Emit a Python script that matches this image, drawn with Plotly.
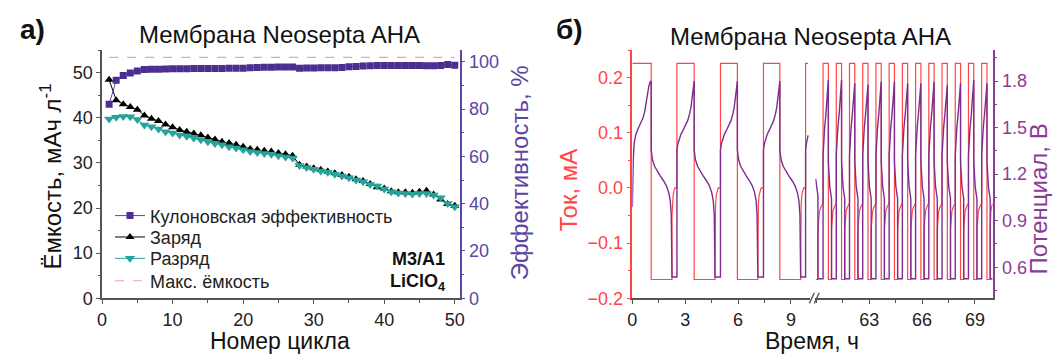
import plotly.graph_objects as go

W, H = 1063, 363

# ---------------- Panel а) data ----------------
cycles = list(range(1, 51))
charge = [48.4, 43.9, 43.0, 42.4, 41.8, 40.5, 39.8, 39.3, 38.5, 37.9,
          37.3, 36.9, 36.5, 36.1, 35.6, 35.2, 34.7, 34.4, 34.0, 33.6,
          33.1, 32.9, 32.7, 32.5, 32.2, 31.9, 31.6, 29.6, 29.2, 28.8,
          28.5, 28.1, 27.7, 27.3, 26.9, 26.4, 26.0, 25.3, 24.6, 24.3,
          23.7, 23.5, 23.5, 23.4, 23.6, 23.8, 23.0, 21.9, 20.9, 20.5]
discharge = [39.7, 40.1, 40.3, 40.2, 39.6, 38.4, 38.0, 37.5, 36.9, 36.6,
             36.2, 35.9, 35.5, 35.1, 34.7, 34.3, 34.0, 33.6, 33.3, 32.9,
             32.5, 32.3, 32.1, 31.9, 31.6, 31.3, 31.1, 29.4, 29.0, 28.6,
             28.2, 27.9, 27.5, 27.1, 26.7, 26.2, 25.8, 25.2, 24.9, 24.2,
             23.6, 23.3, 23.2, 23.1, 23.2, 23.2, 22.9, 22.3, 21.0, 20.3]
efficiency = [82.1, 92.2, 94.2, 95.3, 96.2, 96.8, 96.9, 96.9, 97.0, 97.1,
              97.1, 97.1, 97.2, 97.2, 97.2, 97.2, 97.2, 97.3, 97.3, 97.3,
              97.5, 97.6, 97.7, 97.7, 97.8, 97.8, 97.8, 97.3, 97.4, 97.4,
              97.5, 97.5, 97.5, 97.6, 97.9, 98.1, 98.3, 98.4, 98.5, 98.5,
              98.5, 98.5, 98.5, 98.5, 98.5, 98.4, 98.4, 98.5, 98.9, 98.6]
max_cap_x = [1, 50]
max_cap_y = [53.4, 53.4]

# ---------------- Panel б) data ----------------
I_CHG = 0.226
I_DIS = -0.166
V_HOLD1 = 0.537
V_HOLD2 = 0.526

# segment 1 (0 - 10 h)
s1_cs = [0.00, 2.53, 5.00, 7.44, 9.83]
s1_ce = [1.07, 3.51, 5.96, 8.37]
s1_de = [2.25, 4.69, 7.12, 9.55]
s1_end = 9.97
chg_first_frac = [0.0, 0.02, 0.05, 0.10, 0.17, 0.29, 0.44, 0.56, 0.65, 0.72, 0.79, 0.88, 0.96, 1.0]
chg_first_v = [0.988, 1.15, 1.30, 1.40, 1.45, 1.49, 1.525, 1.56, 1.60, 1.65, 1.715, 1.77, 1.797, 1.80]
chg_frac = [0.0, 0.0, 0.06, 0.13, 0.23, 0.35, 0.48, 0.62, 0.73, 0.81, 0.88, 0.94, 1.0]
chg_v = [V_HOLD1, 1.356, 1.398, 1.430, 1.457, 1.482, 1.513, 1.545, 1.587, 1.629, 1.692, 1.745, 1.80]
dis_frac = [0.0, 0.06, 0.16, 0.29, 0.44, 0.60, 0.73, 0.84, 0.917, 0.965, 0.99, 1.0]
dis_v = [1.356, 1.293, 1.251, 1.219, 1.188, 1.156, 1.125, 1.083, 1.030, 0.936, 0.726, V_HOLD1]
hold1_frac = [0.0, 0.0, 0.1, 0.25, 0.45, 0.6, 1.0]
hold1_i = [I_DIS, -0.05, -0.03, -0.012, -0.003, 0.0, 0.0]
s1_tail_t = [9.83, 9.83, 9.88, 9.93, 9.97]
s1_tail_v = [V_HOLD1, 1.356, 1.40, 1.43, 1.45]

# segment 2 (60 - 70 h)
s2_head_t = [59.96, 60.02, 60.09, 60.09]
s2_head_v = [1.17, 1.12, 1.06, V_HOLD2]
s2_head_i_t = [59.96, 60.09]
s2_cs = [60.38, 61.13, 61.88, 62.63, 63.38, 64.13, 64.88, 65.63, 66.38, 67.13, 67.88, 68.63, 69.38]
s2_ce = [60.68, 61.43, 62.18, 62.93, 63.68, 64.43, 65.18, 65.93, 66.68, 67.43, 68.18, 68.93, 69.68]
s2_de = [60.86, 61.61, 62.36, 63.11, 63.86, 64.61, 65.36, 66.11, 66.86, 67.61, 68.36, 69.11, 69.86]
s2_peak = [1.808, 1.808, 1.786, 1.776, 1.797, 1.797, 1.786, 1.786, 1.797, 1.776, 1.786, 1.808, 1.786]
s2_end = 70.0
chg2_frac = [0.0, 0.0, 0.1, 0.3, 0.55, 0.8, 1.0]
chg2_v = [V_HOLD2, 1.32, 1.42, 1.50, 1.59, 1.70, None]
dis2_frac = [0.0, 0.15, 0.45, 0.8, 1.0, 1.0]
dis2_v = [1.28, 1.20, 1.12, 1.07, 1.04, V_HOLD2]
hold2_frac = [0.0, 0.0, 0.1, 0.3, 0.6, 1.0]
hold2_i = [I_DIS, -0.075, -0.055, -0.042, -0.034, -0.028]

# ---- build segment 1 curves ----
t1, i1, tv1, v1 = [], [], [], []
for k in range(4):
    cs, ce, de, nxt = s1_cs[k], s1_ce[k], s1_de[k], s1_cs[k + 1]
    t1 += [cs, ce, ce, de]
    i1 += [I_CHG, I_CHG, I_DIS, I_DIS]
    for f, v in zip(hold1_frac, hold1_i):
        t1.append(de + f * (nxt - de)); i1.append(v)
    ff, vv = (chg_first_frac, chg_first_v) if k == 0 else (chg_frac, chg_v)
    for f, v in zip(ff, vv):
        tv1.append(cs + f * (ce - cs)); v1.append(v)
    for f, v in zip(dis_frac, dis_v):
        tv1.append(ce + f * (de - ce)); v1.append(v)
    tv1.append(nxt); v1.append(V_HOLD1)
t1 += [s1_cs[4], s1_end]; i1 += [I_CHG, I_CHG]
tv1 += s1_tail_t; v1 += s1_tail_v

# ---- build segment 2 curves ----
t2, i2 = list(s2_head_i_t), [I_DIS, I_DIS]
tv2, v2 = list(s2_head_t), list(s2_head_v)
first_hold_start = s2_head_i_t[-1]
for f, v in zip(hold2_frac, hold2_i):
    t2.append(first_hold_start + f * (s2_cs[0] - first_hold_start)); i2.append(v)
for k in range(len(s2_cs)):
    cs, ce, de = s2_cs[k], s2_ce[k], s2_de[k]
    nxt = s2_cs[k + 1] if k + 1 < len(s2_cs) else s2_end
    t2 += [cs, ce, ce, de]
    i2 += [I_CHG, I_CHG, I_DIS, I_DIS]
    for f, v in zip(hold2_frac, hold2_i):
        t2.append(de + f * (nxt - de)); i2.append(v)
    for f, v in zip(chg2_frac, chg2_v):
        tv2.append(cs + f * (ce - cs)); v2.append(s2_peak[k] if v is None else v)
    tv2.append(ce); v2.append(s2_peak[k])
    for f, v in zip(dis2_frac, dis2_v):
        tv2.append(ce + f * (de - ce)); v2.append(v)
    tv2.append(nxt); v2.append(V_HOLD2)

# ---------------- colours ----------------
C_EFF = "#4b2e8f"
C_EFF_AX = "#5b46a3"
C_TEAL = "#26a39b"
C_PINK = "#f49ac1"
C_RED = "#ff4545"
C_PURP = "#7e2d8f"
C_PURP_AX = "#8a3c98"
C_AX = "#555555"
FONT = "Liberation Sans, Arial, sans-serif"


def px(x):
    return x / W


def py(y):
    return 1 - y / H


fig = go.Figure()

# Panel а traces (each in its own legend box so rows can be spaced like the original)
fig.add_trace(go.Scatter(x=cycles, y=efficiency, yaxis="y2", xaxis="x",
                         mode="lines+markers", name="Кулоновская эффективность", legend="legend",
                         line=dict(color=C_EFF_AX, width=1),
                         marker=dict(symbol="square", size=7, color=C_EFF)))
fig.add_trace(go.Scatter(x=cycles, y=charge, xaxis="x", yaxis="y",
                         mode="lines+markers", name="Заряд", legend="legend2",
                         line=dict(color="black", width=1),
                         marker=dict(symbol="triangle-up", size=8, color="black")))
fig.add_trace(go.Scatter(x=cycles, y=discharge, xaxis="x", yaxis="y",
                         mode="lines+markers", name="Разряд", legend="legend3",
                         line=dict(color=C_TEAL, width=1),
                         marker=dict(symbol="triangle-down", size=9, color=C_TEAL)))
fig.add_trace(go.Scatter(x=max_cap_x, y=max_cap_y, xaxis="x", yaxis="y",
                         mode="lines", name="Макс. ёмкость", legend="legend4",
                         line=dict(color=C_PINK, width=1.2, dash="dash")))

# Panel б traces
fig.add_trace(go.Scatter(x=t1, y=i1, xaxis="x3", yaxis="y3", mode="lines",
                         line=dict(color=C_RED, width=1.2), showlegend=False))
fig.add_trace(go.Scatter(x=t2, y=i2, xaxis="x4", yaxis="y3", mode="lines",
                         line=dict(color=C_RED, width=1.2), showlegend=False))
fig.add_trace(go.Scatter(x=tv1, y=v1, xaxis="x3", yaxis="y4", mode="lines",
                         line=dict(color=C_PURP, width=1.4), showlegend=False))
fig.add_trace(go.Scatter(x=tv2, y=v2, xaxis="x4", yaxis="y4", mode="lines",
                         line=dict(color=C_PURP, width=1.4), showlegend=False))

YDOM = [py(306.7), py(51.5)]
TICKSZ = 18


def axis_common(color, tcolor=None):
    return dict(showline=True, linecolor=color, linewidth=1.6, ticks="outside",
                ticklen=4, tickwidth=1.4, tickcolor=color, showgrid=False, zeroline=False,
                tickfont=dict(family=FONT, size=TICKSZ, color=tcolor or "#222"))


def minor(dtick, tick0, color):
    return dict(dtick=dtick, tick0=tick0, ticklen=2.5, tickcolor=color, ticks="outside")


def legend_row(y):
    return dict(x=px(106), y=py(y), xanchor="left", yanchor="middle",
                bgcolor="rgba(0,0,0,0)", font=dict(family=FONT, size=18, color="#222"),
                itemwidth=30, borderwidth=0)


fig.update_layout(
    width=W, height=H, margin=dict(l=0, r=0, t=0, b=0),
    paper_bgcolor="white", plot_bgcolor="white",
    font=dict(family=FONT),
    xaxis=dict(domain=[px(98), px(459)], range=[0, 50.7], anchor="y",
               tickvals=[0, 10, 20, 30, 40, 50], minor=minor(5, 0, C_AX),
               **axis_common(C_AX)),
    yaxis=dict(domain=YDOM, range=[0, 55], anchor="x", tickvals=[0, 10, 20, 30, 40, 50],
               minor=minor(5, 0, C_AX), **axis_common(C_AX)),
    yaxis2=dict(range=[0, 105], overlaying="y", side="right", anchor="x",
                tickvals=[0, 20, 40, 60, 80, 100], minor=minor(10, 0, C_EFF_AX),
                **axis_common(C_EFF_AX, C_EFF_AX)),
    xaxis3=dict(domain=[px(633.3), px(813)], range=[0, 10.1], anchor="y3",
                tickvals=[0, 3, 6, 9], minor=minor(1.5, 0, C_AX),
                **axis_common(C_AX)),
    xaxis4=dict(domain=[px(818), px(997)], range=[59.94, 70], anchor="y3",
                tickvals=[63, 66, 69], minor=minor(1.5, 60, C_AX),
                **axis_common(C_AX)),
    yaxis3=dict(domain=YDOM, range=[-0.2, 0.25], anchor="x3",
                tickvals=[-0.2, -0.1, 0.0, 0.1, 0.2], tickformat=".1f",
                minor=minor(0.05, 0, C_RED), **axis_common(C_RED, C_RED)),
    yaxis4=dict(range=[0.4, 2.0], overlaying="y3", side="right", anchor="x4",
                tickvals=[0.6, 0.9, 1.2, 1.5, 1.8], tickformat=".1f",
                minor=minor(0.3, 0.45, C_PURP_AX), **axis_common(C_PURP_AX, C_PURP_AX)),
    legend=legend_row(222),
    legend2=legend_row(244),
    legend3=legend_row(266),
    legend4=legend_row(289),
)

ann = []


def text(x, y, s, size=24, color="#111", angle=0, bold=False, xanchor="center"):
    ann.append(dict(x=px(x), y=py(y), xref="paper", yref="paper",
                    text=(f"<b>{s}</b>" if bold else s),
                    showarrow=False, textangle=angle, xanchor=xanchor, yanchor="middle",
                    font=dict(family=FONT, size=size, color=color)))


text(28, 30, "а)", size=28, bold=True)
text(570, 30, "б)", size=28, bold=True)
text(277, 35, "Мембрана Neosepta AHA", size=24)
text(813, 38, "Мембрана Neosepta AHA", size=24)
text(278, 351, "Номер цикла", size=23)
text(815, 351, "Время, ч", size=23)
text(46, 182, "Ёмкость, мАч л<sup>-1</sup>", size=24, angle=-90)
text(519, 178, "Эффективность, %", size=24, color=C_EFF_AX, angle=-90)
text(569, 196, "Ток, мА", size=24, color=C_RED, angle=-90)
text(1043, 205, "Потенциал, В", size=24, color=C_PURP_AX, angle=-90)
text(446, 266, "M3/A1", size=18, bold=True, xanchor="right")
text(446, 290, "LiClO<sub>4</sub>", size=18, bold=True, xanchor="right")
fig.update_layout(annotations=ann)

# axis break marks "//"
shapes = []
for x0 in (812, 817):
    shapes.append(dict(type="line", xref="paper", yref="paper",
                       x0=px(x0), y0=py(312), x1=px(x0 + 5), y1=py(301),
                       line=dict(color=C_AX, width=1.4)))
fig.update_layout(shapes=shapes)

PAGE_FIX = (
    "var gd=document.getElementById('{plot_id}');"
    "gd.style.position='fixed';gd.style.left='0px';gd.style.top='0px';"
    "document.documentElement.style.margin='0';document.body.style.margin='0';"
    "document.documentElement.style.overflow='hidden';document.body.style.overflow='hidden';"
)
fig.write_html("out.html", config={"displayModeBar": False}, post_script=PAGE_FIX)
